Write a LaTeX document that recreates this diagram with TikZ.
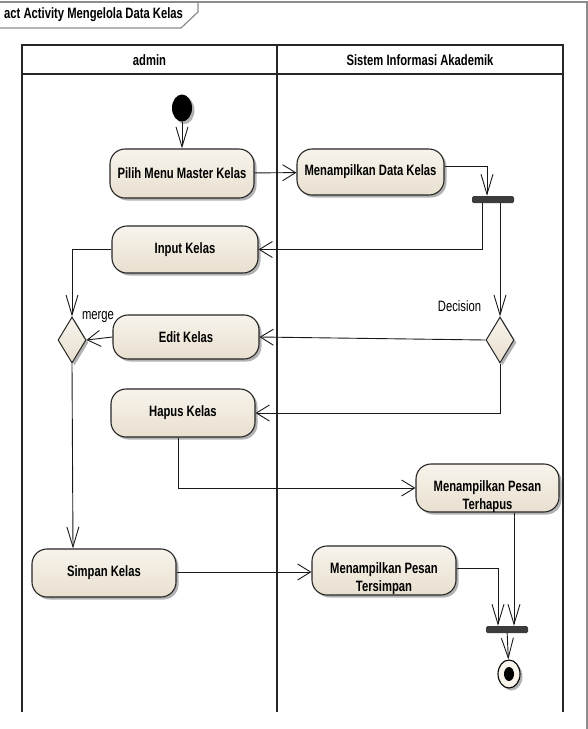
\documentclass[tikz,border=0pt]{standalone}
\usepackage{fontspec}
\setmainfont[FakeStretch=0.75]{Liberation Sans}
\usetikzlibrary{shapes.geometric,shadows,arrows.meta,calc}
\definecolor{fillA}{HTML}{F8F4EC}
\definecolor{fillB}{HTML}{E8DFCF}
\definecolor{barc}{HTML}{3C3C3C}
\definecolor{framec}{HTML}{8C8C8C}
\begin{document}
\begin{tikzpicture}[x=1pt,y=-1pt,
  font=\fontsize{15}{18}\selectfont,
  shad/.style={drop shadow={shadow xshift=2.5pt,shadow yshift=-2.5pt,opacity=0.3,fill=black}},
  action/.style={draw=black!85,line width=1.1pt,rounded corners=15pt,top color=fillA,bottom color=fillB,shad,inner sep=0pt,font=\fontsize{15}{18}\selectfont\bfseries,align=center},
  txt/.style={inner sep=0pt,font=\fontsize{15}{18}\selectfont\bfseries,align=center},
  plain/.style={inner sep=0pt,font=\fontsize{15}{18}\selectfont},
  dia/.style={shape=diamond,draw=black!85,line width=1pt,top color=fillA,bottom color=fillB,shad,inner sep=0pt,minimum width=28pt,minimum height=46pt},
  bar/.style={fill=barc,rounded corners=1.5pt,inner sep=0pt,minimum width=42pt,minimum height=7pt},
  flow/.style={draw=black!90,line width=0.9pt},
  harrow/.style={flow,-{Straight Barb[length=13pt,width=16pt,line width=0.9pt]}},
  varrow/.style={flow,-{Straight Barb[length=20pt,width=12pt,line width=0.9pt]}},
  lane/.style={draw=black!85,line width=1.4pt}
]
\useasboundingbox (0,0) rectangle (588,729);
% frame
\draw[framec,line width=1.2pt] (-1,2) -- (587,2) -- (587,740);
\draw[framec,line width=1.2pt] (-1,28) -- (181,28) -- (198,12) -- (198,2);
\node[txt,anchor=west] (title) at (4,15) {act Activity Mengelola Data Kelas};
% swimlanes
\draw[lane] (22,712) -- (22,45) -- (563,45) -- (563,712);
\draw[lane] (277,45) -- (277,712);
\draw[lane] (22,74) -- (563,74);
\node[txt] (laneA) at (149.5,60) {admin};
\node[txt] (laneB) at (420,60) {Sistem Informasi Akademik};
% nodes
\node[shape=ellipse,fill=black,shad,inner sep=0pt,minimum width=20pt,minimum height=27pt] (init) at (182,108) {};
\node[action,minimum width=144pt,minimum height=49pt] (pilih) at (182,173.5) {Pilih Menu Master Kelas};
\node[action,minimum width=147pt,minimum height=46pt] (datakelas) at (370.5,172) {Menampilkan Data Kelas};
\node[bar] (fork) at (493,199.5) {};
\node[action,minimum width=146pt,minimum height=47pt] (input) at (185,249.5) {Input Kelas};
\node[action,minimum width=146pt,minimum height=44pt] (edit) at (186,337) {Edit Kelas};
\node[action,minimum width=144pt,minimum height=48pt] (hapus) at (183,413) {Hapus Kelas};
\node[dia] (merge) at (72,340) {};
\node[dia] (decision) at (500,340) {};
\node[plain] (mergeL) at (98,317) {merge};
\node[plain] (decL) at (459.5,306) {Decision};
\node[action,minimum width=143pt,minimum height=48pt] (terhapus) at (487.5,488) {};
\node[txt] (terhapusT) at (487.5,496.5) {Menampilkan Pesan\\Terhapus};
\node[action,minimum width=144pt,minimum height=48pt] (simpan) at (104,573) {Simpan Kelas};
\node[action,minimum width=144pt,minimum height=49pt] (tersimpan) at (384,570.5) {};
\node[txt] (tersimpanT) at (384,578.5) {Menampilkan Pesan\\Tersimpan};
\node[bar] (join) at (507,629.5) {};
\node[shape=ellipse,draw=black,line width=1.1pt,fill=fillA,shad,inner sep=0pt,minimum width=22pt,minimum height=28pt] (final) at (509,674) {};
\node[shape=ellipse,fill=black,inner sep=0pt,minimum width=10pt,minimum height=14pt] (finalIn) at (509,674) {};
% edges
\draw[varrow] (init) -- (pilih);
\draw[harrow] (pilih) -- (datakelas);
\draw[varrow] ($(datakelas.east)+(0,-6)$) -| ($(fork.north)+(-6,0)$);
\draw[harrow] ($(fork.south)+(-11,0)$) |- (input.east);
\draw[varrow] ($(fork.south)+(7,0)$) -- (decision.north);
\draw[harrow] (decision.west) -- (edit.east);
\draw[harrow] (decision.south) |- (hapus.east);
\draw[varrow] (input.west) -| (merge.north);
\draw[harrow] (edit.west) -- (merge.east);
\draw[varrow] (merge.south) -- ($(simpan.north)+(-31,0)$);
\draw[harrow] ($(hapus.south)+(-5,0)$) |- (terhapus.west);
\draw[harrow] ($(simpan.east)+(0,-1)$) -- ($(tersimpan.west)+(0,1.5)$);
\draw[varrow] ($(tersimpan.east)+(0,-2)$) -| ($(join.north)+(-9,0)$);
\draw[varrow] ($(terhapus.south)+(26.5,0)$) -- ($(join.north)+(7,0)$);
\draw[varrow] (join) -- (final);
\end{tikzpicture}
\end{document}
